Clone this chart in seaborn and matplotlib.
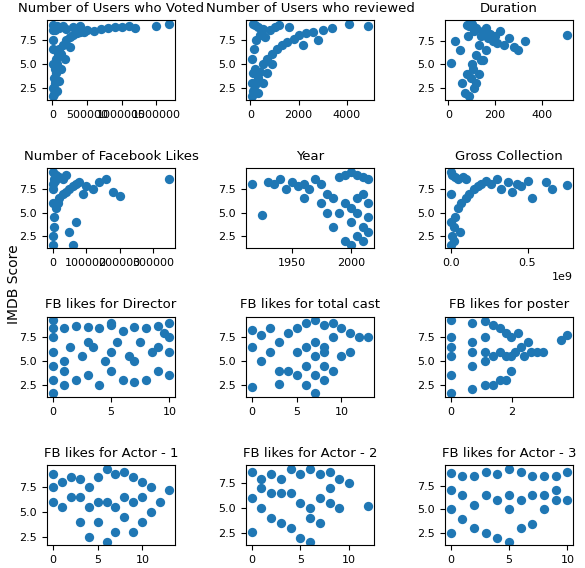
import matplotlib
matplotlib.use("Agg")
import matplotlib.pyplot as plt
import seaborn as sns
import pandas as pd

titles = ["Number of Users who Voted", "Number of Users who reviewed", "Duration",
          "Number of Facebook Likes", "Year", "Gross Collection",
          "FB likes for Director", "FB likes for total cast", "FB likes for poster",
          "FB likes for Actor - 1", "FB likes for Actor - 2", "FB likes for Actor - 3"]

votes_x = [5000,10000,20000,30000,50000,80000,100000,150000,200000,250000,300000,350000,400000,450000,500000,600000,700000,800000,900000,1000000,1100000,1200000,1500000,1690000,10000,20000,40000,60000,100000,150000,200000,3000,8000,15000,5000,30000,50000,70000,120000,250000,60000,90000,20000,300000,400000,180000,130000]
votes_y = [1.6,2.5,3.5,4.5,5.5,6.0,6.5,7.0,7.5,7.8,8.0,8.2,8.3,8.3,8.5,8.4,8.6,8.7,8.8,8.8,8.9,8.7,8.9,9.2,9.0,8.8,8.5,8.9,8.7,8.9,8.6,5.0,6.5,7.5,8.5,3.0,4.0,5.0,6.0,6.8,2.2,3.2,1.9,8.8,8.9,5.5,4.5]
rev_x = [50,100,200,300,400,500,700,900,1100,1300,1500,1800,2000,2300,2600,3000,3400,4100,4900,100,200,300,500,800,1000,1200,50,150,250,400,600,50,100,200,300,2200,2800,1600,700,900,500]
rev_y = [1.6,2.2,2.8,3.5,4.2,5.0,5.5,6.0,6.5,7.0,7.3,7.6,8.0,8.2,8.3,8.5,8.7,9.1,8.9,9.2,9.0,8.8,8.6,8.5,8.8,9.0,5.5,6.5,7.5,8.0,7.8,3.0,4.0,4.5,2.0,7.0,7.5,8.8,4.0,5.0,3.0]
dur_x = [10,30,50,60,70,80,90,100,110,120,130,140,150,160,170,180,190,200,210,220,240,260,280,300,330,511,90,100,110,120,80,140,160,95,105,85,130,150,120]
dur_y = [5.1,7.5,6.5,3.0,2.0,4.0,1.6,5.0,2.5,6.0,7.0,8.0,8.5,8.8,7.8,8.2,7.5,8.0,7.2,8.5,7.0,7.8,6.8,6.5,7.5,8.1,9.0,9.3,8.5,8.8,9.1,5.5,6.5,3.5,4.5,8.0,4.0,5.5,3.0]
fb_x = [0,1000,3000,5000,10000,15000,20000,30000,40000,50000,60000,70000,80000,90000,100000,120000,140000,160000,180000,200000,349000,5000,10000,20000,30000,40000,50000,60000,70000,0,0,0,2000,8000]
fb_y = [1.6,2.5,3.5,4.5,5.5,6.0,6.5,7.0,7.2,7.5,7.8,8.0,8.2,7.0,7.8,7.5,8.2,8.5,7.2,6.8,8.6,8.5,9.0,8.8,8.5,9.0,3.0,1.6,4.0,9.3,8.0,6.0,7.5,8.3]
yr_x = [1916,1925,1930,1935,1940,1945,1950,1955,1960,1965,1970,1975,1980,1985,1990,1995,2000,2005,2010,2015,1985,1990,1995,2000,2005,2010,2015,1995,2000,2005,2010,2015,2000,2005,2010,2015,1975,1960,1980]
yr_y = [8.0,4.7,8.2,8.0,8.5,7.5,8.2,7.8,8.0,7.5,8.5,8.0,7.0,6.5,8.8,9.0,9.3,9.0,8.8,8.5,3.5,5.0,2.0,1.6,2.5,3.5,4.5,6.0,5.5,6.5,7.0,6.0,4.0,5.0,2.0,3.0,6.0,6.5,5.0]
gr_x = [0,1e7,2e7,3e7,5e7,7e7,1e8,1.2e8,1.5e8,1.8e8,2e8,2.3e8,2.6e8,3e8,3.3e8,3.7e8,4e8,4.3e8,4.6e8,5e8,5.3e8,6.2e8,6.6e8,7.6e8,0,1e7,3e7,5e7,8e7,1e8,2e7,5e6,0,6e7]
gr_y = [1.6,2.5,3.5,4.5,5.5,6.0,6.5,7.0,7.5,7.8,8.0,8.3,8.0,8.5,7.5,8.2,7.2,8.0,7.8,8.3,6.5,8.2,7.5,7.9,9.3,9.0,8.8,8.5,8.8,8.6,2.0,4.0,7.0,3.0]
dir_x = [0,0,0,0,0,0,0,1,1,1,2,2,3,3,4,4,5,5,5,6,6,7,7,8,8,9,9,10,10,10,1.5,2.5,3.5,4.5,5.5,6.5,7.5,8.5,9.5,3,5,7,9,1,10]
dir_y = [1.6,3,4.5,6,7.5,8.5,9.3,2.5,8.5,5.0,3.0,8.7,8.6,3.5,2.5,8.5,4.0,8.8,6.0,3.0,8.2,8.6,2.8,8.5,3.0,8.7,4.0,9.0,6.0,7.5,6.5,5.5,6.5,5.0,7.0,5.5,7.0,6.0,8.0,7.0,9.0,5.0,6.5,4.0,3.5]
cast_x = [0,0,0,1,1,2,3,3,4,4,5,5,6,6,7,7,7,8,8,8,9,9,10,10,11,11,12,13,6,7,8,9,5,6,7,8,3,2]
cast_y = [8.3,2.3,6.5,7.8,5.0,8.5,2.6,7.0,8.0,4.0,8.5,3.5,9.0,2.5,9.3,1.6,5.5,8.8,3.0,6.0,9.0,4.0,8.5,5.5,8.0,6.0,7.5,7.5,6.5,7.0,6.5,7.5,6.0,4.5,3.5,4.5,4.0,6.0]
post_x = [0,0,0,0,0,0.69,0.69,0.69,0.69,1.1,1.1,1.1,1.1,1.39,1.39,1.39,1.61,1.61,1.61,1.79,1.79,1.95,1.95,2.08,2.2,2.3,2.4,2.5,2.6,2.8,3.0,3.6,3.8,1.79,1.95,0.69,1.1,0]
post_y = [1.6,3.5,5.5,7.5,9.3,2.0,4.5,7.0,9.0,2.5,5.0,7.5,9.2,2.5,5.5,8.8,3.0,6.0,8.5,3.0,8.0,4.0,7.5,6.0,8.0,6.5,5.5,7.0,6.0,6.0,6.0,7.2,7.8,5.5,5.5,6.0,6.0,6.5]
a1_x = [0,0,0,1,1,2,2,3,3,4,4,5,5,6,6,7,7,8,8,9,9,10,10,11,11,12,13,6,7,8,9,10,5,4,3]
a1_y = [8.8,6.0,7.5,8.0,5.5,8.5,6.5,4.0,8.3,2.5,7.5,8.5,4.0,9.3,2.0,8.8,3.0,9.0,4.5,8.5,3.0,8.0,4.0,7.5,5.0,6.0,7.2,6.0,5.5,6.5,6.0,6.5,6.0,5.5,6.5]
a2_x = [0,0,0,1,1,2,2,3,3,4,4,5,5,6,6,6,7,7,8,8,9,9,10,12,5,6,7,8,3,4,2,1]
a2_y = [8.7,2.6,6.0,8.0,5.0,8.5,4.0,8.0,3.5,9.0,3.0,8.5,2.0,9.0,1.6,5.0,8.5,3.5,8.7,5.5,8.0,5.0,7.5,5.2,5.5,4.0,6.0,7.0,6.5,6.5,6.5,7.0]
a3_x = [0,0,0,0,1,1,2,2,3,3,4,4,5,5,5,6,6,7,7,8,8,9,9,10,10,5,6,7,3,4,8,9,2,1]
a3_y = [8.8,2.5,5.0,7.0,8.5,4.0,8.5,3.0,9.0,2.5,8.7,2.0,9.3,1.6,5.0,9.0,3.0,8.5,3.5,8.5,5.0,8.5,6.0,9.0,6.0,6.5,6.0,6.5,6.5,6.0,6.5,7.0,5.5,6.5]

data = [(votes_x, votes_y), (rev_x, rev_y), (dur_x, dur_y), (fb_x, fb_y), (yr_x, yr_y),
        (gr_x, gr_y), (dir_x, dir_y), (cast_x, cast_y), (post_x, post_y),
        (a1_x, a1_y), (a2_x, a2_y), (a3_x, a3_y)]

fig, axes = plt.subplots(4, 3, figsize=(5.85, 5.68), dpi=100)
for i, (ax, t, (xs, ys)) in enumerate(zip(axes.flat, titles, data)):
    df = pd.DataFrame({"x": xs, "y": ys})
    sns.scatterplot(data=df, x="x", y="y", ax=ax, color="#1f77b4", s=45, linewidth=0)
    ax.set_title(t, fontsize=9.5)
    ax.set_xlabel("")
    ax.set_ylabel("")
    ax.set_yticks([2.5, 5.0, 7.5])
    ax.tick_params(labelsize=8)
    if i in (0, 3):
        ax.ticklabel_format(axis="x", style="plain")
axes[0, 0].set_xticks([0, 500000, 1000000, 1500000])
axes[1, 0].set_xticks([0, 100000, 200000, 300000])
axes[1, 2].ticklabel_format(axis="x", style="sci", scilimits=(9, 9))
axes[1, 2].xaxis.get_offset_text().set_fontsize(8)
fig.text(0.012, 0.5, "IMDB Score", rotation=90, va="center", fontsize=10)
fig.subplots_adjust(left=0.08, right=0.98, top=0.965, bottom=0.04, hspace=0.85, wspace=0.55)
fig.savefig("out.png", dpi=100)
